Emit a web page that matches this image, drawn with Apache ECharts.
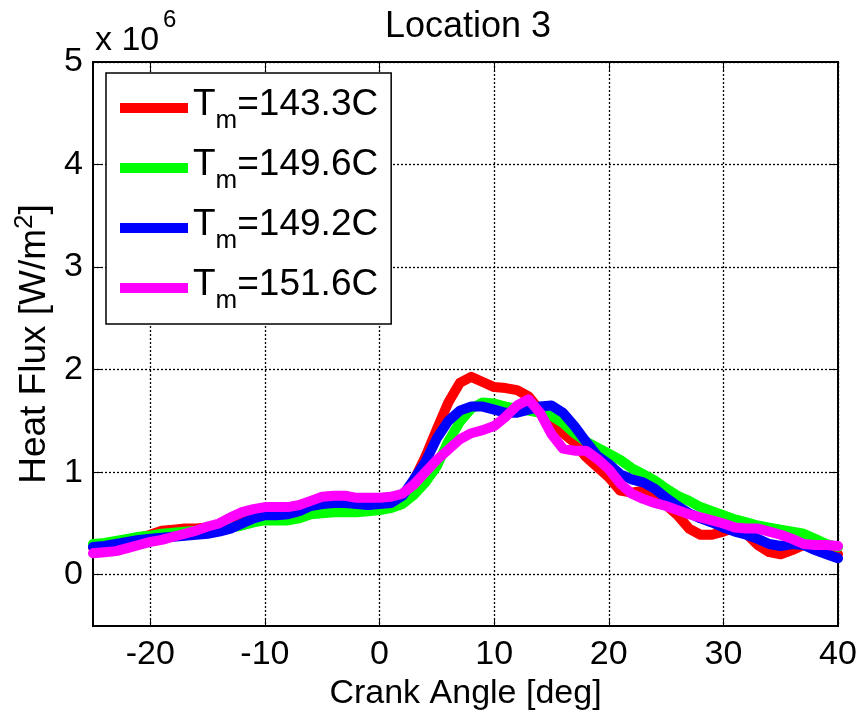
<!DOCTYPE html>
<html>
<head>
<meta charset="utf-8">
<script src="https://cdn.jsdelivr.net/npm/echarts@6/dist/echarts.min.js"></script>
<style>
html, body { margin: 0; padding: 0; background: #fff; }
#chart { width: 860px; height: 720px; }
</style>
</head>
<body>
<div id="chart"></div>
<script>
// crank angle, one point per degree
const angles = [];
for (let a = -25; a <= 40; a++) angles.push(a);

// heat flux, x 10^6 W/m^2
const red = [0.27, 0.29, 0.31, 0.33, 0.36, 0.39, 0.43, 0.44, 0.45, 0.45, 0.46, 0.47, 0.50, 0.53, 0.55, 0.56,
  0.56, 0.57, 0.59, 0.61, 0.62, 0.62, 0.62, 0.63, 0.64, 0.65, 0.68, 0.74, 0.92, 1.15, 1.42, 1.68, 1.87, 1.93,
  1.88, 1.83, 1.82, 1.80, 1.74, 1.60, 1.50, 1.38, 1.29, 1.15, 1.05, 0.95, 0.82, 0.80, 0.82, 0.76, 0.68, 0.58,
  0.45, 0.39, 0.39, 0.42, 0.46, 0.40, 0.29, 0.22, 0.20, 0.24, 0.29, 0.31, 0.26, 0.20];
const green = [0.30, 0.31, 0.33, 0.35, 0.37, 0.38, 0.40, 0.41, 0.42, 0.43, 0.44, 0.45, 0.46, 0.48, 0.51, 0.53,
  0.53, 0.53, 0.55, 0.59, 0.60, 0.61, 0.61, 0.61, 0.62, 0.63, 0.65, 0.69, 0.78, 0.90, 1.06, 1.30, 1.49, 1.62,
  1.68, 1.67, 1.64, 1.62, 1.60, 1.58, 1.55, 1.48, 1.38, 1.30, 1.24, 1.18, 1.12, 1.04, 0.98, 0.92, 0.84, 0.77,
  0.72, 0.66, 0.62, 0.58, 0.54, 0.51, 0.48, 0.46, 0.44, 0.42, 0.40, 0.35, 0.30, 0.27];
const blue = [0.27, 0.28, 0.30, 0.32, 0.34, 0.35, 0.36, 0.37, 0.38, 0.39, 0.40, 0.42, 0.45, 0.50, 0.55, 0.58,
  0.58, 0.59, 0.62, 0.67, 0.69, 0.70, 0.70, 0.69, 0.68, 0.69, 0.70, 0.77, 0.93, 1.10, 1.33, 1.50, 1.60, 1.64,
  1.64, 1.61, 1.58, 1.58, 1.61, 1.64, 1.65, 1.58, 1.45, 1.30, 1.16, 1.08, 0.98, 0.93, 0.90, 0.84, 0.75, 0.67,
  0.60, 0.55, 0.51, 0.46, 0.42, 0.39, 0.35, 0.30, 0.28, 0.30, 0.29, 0.24, 0.20, 0.16];
const magenta = [0.21, 0.22, 0.23, 0.26, 0.29, 0.32, 0.34, 0.37, 0.40, 0.43, 0.47, 0.50, 0.56, 0.61, 0.64, 0.66,
  0.66, 0.66, 0.68, 0.72, 0.76, 0.77, 0.77, 0.75, 0.75, 0.75, 0.76, 0.79, 0.88, 1.00, 1.12, 1.22, 1.32, 1.38,
  1.41, 1.45, 1.54, 1.65, 1.71, 1.58, 1.37, 1.23, 1.21, 1.21, 1.13, 1.03, 0.89, 0.79, 0.74, 0.70, 0.67, 0.63,
  0.59, 0.56, 0.53, 0.50, 0.46, 0.45, 0.45, 0.42, 0.39, 0.35, 0.30, 0.29, 0.29, 0.28];

const temps = ['143.3', '149.6', '149.2', '151.6'];
const colors = ['#ff0000', '#00ff00', '#0000ff', '#ff00ff'];
const xTicks = [-20, -10, 0, 10, 20, 30, 40];
const yTicks = [0, 1, 2, 3, 4, 5];

const FONT = '"Liberation Sans", Arial, sans-serif';

const myChart = echarts.init(document.getElementById('chart'));

const series = [red, green, blue, magenta].map(function (vals, i) {
  return {
    name: 'Tm=' + temps[i] + 'C',
    type: 'line',
    data: angles.map(function (a, k) { return [a, vals[k]]; }),
    showSymbol: false,
    symbol: 'none',
    lineStyle: { color: colors[i], width: 10, cap: 'round', join: 'round' },
    itemStyle: { color: colors[i] },
    animation: false
  };
});

const option = {
  animation: false,
  backgroundColor: '#fff',
  title: {
    text: 'Location 3',
    left: 463,
    textAlign: 'center',
    top: 4,
    textStyle: { fontFamily: FONT, fontSize: 36, fontWeight: 'normal', color: '#000' }
  },
  grid: {
    left: 93, right: 22, top: 62, bottom: 94,
    outerBoundsMode: 'none',
    containLabel: false,
    show: true, borderColor: '#000', borderWidth: 2, backgroundColor: '#fff'
  },
  legend: {
    orient: 'vertical',
    left: 106,
    top: 73,
    padding: [9, 13, 10, 14],
    itemGap: 8,
    icon: 'rect',
    itemWidth: 68,
    itemHeight: 10,
    backgroundColor: '#fff',
    borderColor: '#000',
    borderWidth: 1.5,
    borderRadius: 0,
    formatter: function (name) {
      return '{a|T}{s|m}{a|=' + name.slice(3) + '}';
    },
    textStyle: {
      rich: {
        a: { fontFamily: FONT, fontSize: 37, lineHeight: 44, verticalAlign: 'top', color: '#000' },
        s: { fontFamily: FONT, fontSize: 26, lineHeight: 26, color: '#000', padding: [26, 0, 0, 0] }
      }
    }
  },
  xAxis: [{
    type: 'value',
    min: -25,
    max: 40,
    name: 'Crank Angle [deg]',
    nameLocation: 'middle',
    nameGap: 50,
    nameTextStyle: { fontFamily: FONT, fontSize: 34, color: '#000' },
    axisLine: { show: true, onZero: false, lineStyle: { color: '#000', width: 2 } },
    axisTick: { show: true, inside: true, length: 8, customValues: xTicks, lineStyle: { color: '#000' } },
    axisLabel: { customValues: xTicks, fontFamily: FONT, fontSize: 34, color: '#000', margin: 12 },
    splitLine: { show: true, lineStyle: { color: '#000', type: [2, 2], width: 1.3 } }
  }, {
    type: 'value',
    min: -25,
    max: 40,
    position: 'top',
    axisLine: { show: true, onZero: false, lineStyle: { color: '#000', width: 2 } },
    axisTick: { show: true, inside: true, length: 8, customValues: xTicks, lineStyle: { color: '#000' } },
    axisLabel: { show: false },
    splitLine: { show: false }
  }],
  yAxis: [{
    type: 'value',
    min: -0.5,
    max: 5,
    name: '{a|Heat Flux [W/m}{b|2}{a|]}',
    nameLocation: 'middle',
    nameGap: 34,
    nameTextStyle: {
      rich: {
        a: { fontFamily: FONT, fontSize: 37, color: '#000' },
        b: { fontFamily: FONT, fontSize: 26, color: '#000', padding: [0, 0, 20, 0] }
      }
    },
    axisLine: { show: true, onZero: false, lineStyle: { color: '#000', width: 2 } },
    axisTick: { show: true, inside: true, length: 8, customValues: yTicks, lineStyle: { color: '#000' } },
    axisLabel: { customValues: yTicks, fontFamily: FONT, fontSize: 34, color: '#000', margin: 10 },
    splitLine: { show: true, lineStyle: { color: '#000', type: [2, 2], width: 1.3 } }
  }, {
    type: 'value',
    min: -0.5,
    max: 5,
    position: 'right',
    axisLine: { show: true, onZero: false, lineStyle: { color: '#000', width: 2 } },
    axisTick: { show: true, inside: true, length: 8, customValues: yTicks, lineStyle: { color: '#000' } },
    axisLabel: { show: false },
    splitLine: { show: false }
  }],
  graphic: [{
    type: 'text',
    left: 95,
    top: 24,
    style: { text: 'x 10', fontFamily: FONT, fontSize: 34, fill: '#000' }
  }, {
    type: 'text',
    left: 163,
    top: 8,
    style: { text: '6', fontFamily: FONT, fontSize: 24, fill: '#000' }
  }],
  series: series
};

myChart.setOption(option);
window.addEventListener('resize', function () {
  myChart.resize();
});
</script>
</body>
</html>
